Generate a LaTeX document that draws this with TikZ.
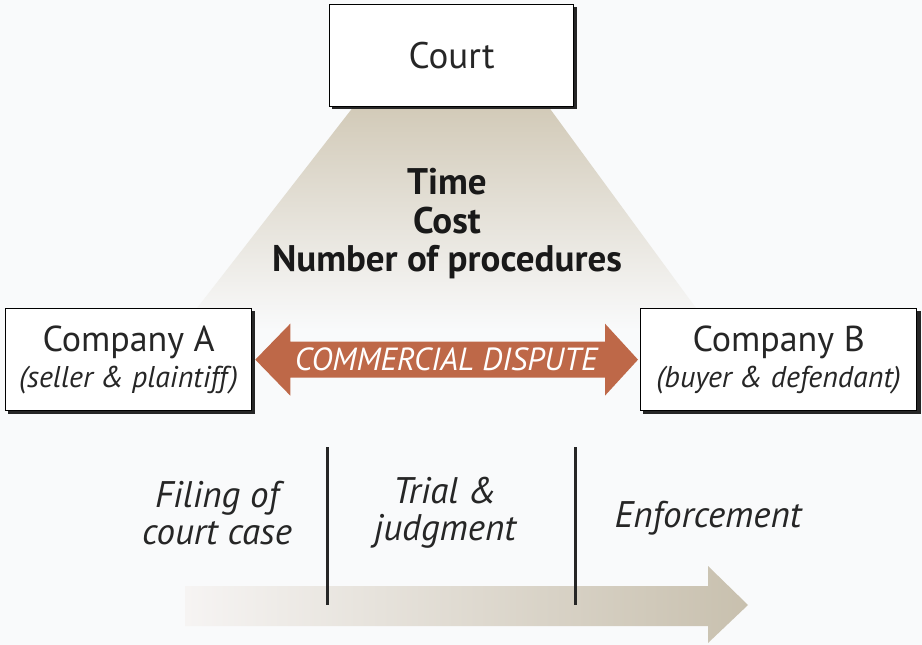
\documentclass[tikz,border=0pt]{standalone}
\usepackage{fontspec}
\setmainfont{PT Sans}
\usetikzlibrary{calc,shapes.arrows}
\definecolor{bg}{RGB}{249,250,251}
\definecolor{tan}{RGB}{210,202,184}
\definecolor{rust}{RGB}{190,104,72}
\definecolor{arrowtan}{RGB}{200,192,174}
\definecolor{arrowlight}{RGB}{246,244,243}
\tikzset{
  box/.style={draw=black, line width=1.3pt, fill=white, inner sep=0pt},
  shadowbox/.style={fill=black!85},
  phase/.style={font=\fontsize{37}{37}\selectfont\itshape, align=center, text=black!85},
  divider/.style={line width=3pt, black!85},
}
\begin{document}
\begin{tikzpicture}[x=1pt,y=-1pt]
\fill[bg] (0,0) rectangle (922,645);
\useasboundingbox (0,0) rectangle (922,645);
% trapezoid
\shade[top color=tan, bottom color=bg] (354,106) -- (548,106) -- (712,330) -- (180,330) -- cycle;
% court box
\fill[shadowbox] (332,7) rectangle (577,109);
\node[box, minimum width=244pt, minimum height=102pt, anchor=north west] (court) at (329,4) {};
\node[font=\fontsize{37}{40}\selectfont, text=black!85] (courtt) at (court.center) {Court};
% criteria
\node[font=\fontsize{37}{38.5}\selectfont\bfseries, align=center, text=black!90] (crit) at (447,224) {Time\\Cost\\Number of procedures};
% company boxes
\fill[shadowbox] (8,311) rectangle (255,414);
\node[box, minimum width=246pt, minimum height=102pt, anchor=north west] (A) at (5,308) {};
\node[align=center, text=black!85] (At) at (A.center) {{\fontsize{36}{38}\selectfont Company A}\\[6pt]{\fontsize{30}{34}\selectfont\itshape (seller \& plaintiff)}};
\fill[shadowbox] (643,311) rectangle (921,414);
\node[box, minimum width=276pt, minimum height=102pt, anchor=north west] (B) at (640,308) {};
\node[align=center, text=black!85] (Bt) at (B.center) {{\fontsize{36}{38}\selectfont Company B}\\[6pt]{\fontsize{30}{34}\selectfont\itshape (buyer \& defendant)}};
% double arrow
\fill[rust] ($(A.east)+(3,0)$) -- ++(35,-36) -- ++(0,18) -- ($(B.west)+(-35,-18)$) -- ++(0,-18) -- ($(B.west)+(-2,0)$) -- ++(-33,36) -- ++(0,-18) -- ($(A.east)+(38,18)$) -- ++(0,18) -- cycle;
\node[font=\fontsize{32}{34}\selectfont\itshape, text=white] (dispute) at ($(A.east)!0.5!(B.west)$) {COMMERCIAL DISPUTE};
% bottom arrow
\shade[left color=arrowlight, right color=arrowtan] (185,586) -- (708,586) -- (708,566) -- (748,605) -- (708,643) -- (708,626) -- (185,626) -- cycle;
% dividers
\coordinate (d1t) at (327,447); \coordinate (d1b) at (327,605);
\coordinate (d2t) at (575,447); \coordinate (d2b) at (575,605);
\draw[divider] (d1t) -- (d1b);
\draw[divider] (d2t) -- (d2b);
% phases
\node[phase] (p1) at (217,513) {Filing of\\court case};
\node[phase] (p2) at (445,513) {Trial \&\\judgment};
\node[phase] (p3) at (708,518) {Enforcement};
\end{tikzpicture}
\end{document}
